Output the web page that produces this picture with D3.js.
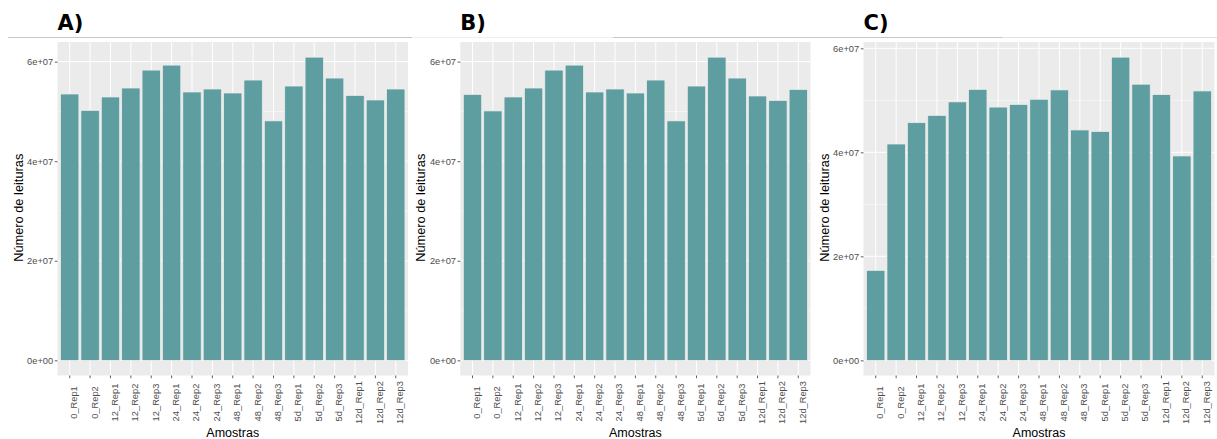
<!DOCTYPE html>
<html>
<head>
<meta charset="utf-8">
<script src="https://cdn.jsdelivr.net/npm/d3@7"></script>
<style>
body{margin:0;background:#fff;}
text{font-family:"Liberation Sans", Arial, sans-serif;}
</style>
</head>
<body>
<div id="chart"></div>
<script>
// samples (same order in the three panels)
var categories = ["0_Rep1","0_Rep2","12_Rep1","12_Rep2","12_Rep3","24_Rep1","24_Rep2","24_Rep3",
    "48_Rep1","48_Rep2","48_Rep3","5d_Rep1","5d_Rep2","5d_Rep3","12d_Rep1","12d_Rep2","12d_Rep3"];

// number of reads per sample
var readsA = [53.5e6, 50.2e6, 52.9e6, 54.7e6, 58.3e6, 59.3e6, 53.9e6, 54.5e6, 53.7e6, 56.3e6, 48.1e6, 55.1e6, 60.9e6, 56.7e6, 53.2e6, 52.3e6, 54.5e6];
var readsB = [53.4e6, 50.1e6, 52.9e6, 54.7e6, 58.3e6, 59.3e6, 53.9e6, 54.5e6, 53.7e6, 56.3e6, 48.1e6, 55.1e6, 60.9e6, 56.7e6, 53.1e6, 52.2e6, 54.4e6];
var readsC = [17.3e6, 41.6e6, 45.7e6, 47.1e6, 49.7e6, 52.1e6, 48.7e6, 49.2e6, 50.2e6, 52.0e6, 44.3e6, 44.0e6, 58.3e6, 53.1e6, 51.1e6, 39.3e6, 51.8e6];

var yTicks = [0, 2e7, 4e7, 6e7];
var yTickLabels = ["0e+00", "2e+07", "4e+07", "6e+07"];
var yMinorTicks = [1e7, 3e7, 5e7];
var panelTitles = ["A)", "B)", "C)"];
var xTitle = "Amostras";
var yTitle = "Número de leituras";

var W = 1217, H = 439;
var plotTop = 42, plotBottom = 375.5;

var panels = [
    {title: panelTitles[0], values: readsA, x0: 57.5, x1: 408},
    {title: panelTitles[1], values: readsB, x0: 460.3, x1: 810.5},
    {title: panelTitles[2], values: readsC, x0: 863.5, x1: 1214.5}
];

var svg = d3.select("#chart")
    .append("svg")
    .attr("width", W)
    .attr("height", H);

// thin rule under the panel letters
var rules = [[8, 412, "#c6c6c6"], [412, 613, "#efefef"], [613, 1002, "#c6c6c6"], [1002, 1217, "#e2e2e2"]];
rules.forEach(function(r){
    svg.append("line")
        .attr("x1", r[0]).attr("x2", r[1])
        .attr("y1", 37.5).attr("y2", 37.5)
        .style("stroke", r[2])
        .style("stroke-width", "1px");
});

panels.forEach(function(p){
    var max = d3.max(p.values);
    var y = d3.scaleLinear()
        .domain([-0.05*max, 1.05*max])
        .range([plotBottom, plotTop]);
    var x = d3.scaleBand()
        .domain(categories)
        .range([p.x0, p.x1])
        .paddingInner(0.1)
        .paddingOuter(0.15);

    var g = svg.append("g");

    // panel background
    g.append("rect")
        .attr("x", p.x0).attr("y", plotTop)
        .attr("width", p.x1 - p.x0).attr("height", plotBottom - plotTop)
        .style("fill", "#ebebeb");

    // grid
    g.selectAll(".minor")
        .data(yMinorTicks)
        .enter()
        .append("line")
        .attr("x1", p.x0).attr("x2", p.x1)
        .attr("y1", function(d){return y(d);})
        .attr("y2", function(d){return y(d);})
        .style("stroke", "#fff")
        .style("stroke-width", "0.5px");

    g.selectAll(".major")
        .data(yTicks)
        .enter()
        .append("line")
        .attr("x1", p.x0).attr("x2", p.x1)
        .attr("y1", function(d){return y(d);})
        .attr("y2", function(d){return y(d);})
        .style("stroke", "#fff")
        .style("stroke-width", "1px");

    g.selectAll(".vgrid")
        .data(categories)
        .enter()
        .append("line")
        .attr("x1", function(d){return x(d) + x.bandwidth()/2;})
        .attr("x2", function(d){return x(d) + x.bandwidth()/2;})
        .attr("y1", plotTop).attr("y2", plotBottom)
        .style("stroke", "#fff")
        .style("stroke-width", "1px");

    // bars
    g.selectAll(".bar")
        .data(p.values)
        .enter()
        .append("rect")
        .attr("x", function(d, i){return x(categories[i]);})
        .attr("width", x.bandwidth())
        .attr("y", function(d){return y(d);})
        .attr("height", function(d){return y(0) - y(d);})
        .style("fill", "#5f9ea0")
        .style("stroke", "#eeeeee")
        .style("stroke-width", "0.7px");

    // y axis
    var yAxis = g.append("g")
        .attr("transform", "translate(" + p.x0 + ",0)")
        .call(d3.axisLeft(y)
            .tickValues(yTicks)
            .tickFormat(function(d, i){return yTickLabels[i];})
            .tickSize(2.7)
            .tickPadding(1.6));
    yAxis.select(".domain").remove();
    yAxis.selectAll("line").style("stroke", "#333").style("stroke-width", "0.8px");
    yAxis.selectAll("text")
        .style("fill", "#4d4d4d")
        .style("font-size", "9.3px")
        .style("font-family", "'Liberation Sans', Arial, sans-serif");

    // x axis
    var xAxis = g.append("g")
        .attr("transform", "translate(0," + plotBottom + ")")
        .call(d3.axisBottom(x).tickSize(2.7));
    xAxis.select(".domain").remove();
    xAxis.selectAll("line").style("stroke", "#333").style("stroke-width", "0.8px");
    xAxis.selectAll("text")
        .attr("y", null)
        .attr("dy", "0.8em")
        .attr("text-anchor", "middle")
        .attr("transform", "translate(0,27) rotate(-90)")
        .style("fill", "#4d4d4d")
        .style("font-size", "9.3px")
        .style("font-family", "'Liberation Sans', Arial, sans-serif");

    // axis titles
    g.append("text")
        .attr("x", (p.x0 + p.x1)/2)
        .attr("y", 437)
        .attr("text-anchor", "middle")
        .style("font-size", "12.5px")
        .style("fill", "#000")
        .text(xTitle);

    g.append("text")
        .attr("transform", "translate(" + (p.x0 - 35) + "," + ((plotTop + plotBottom)/2 - 1) + ") rotate(-90)")
        .attr("text-anchor", "middle")
        .style("font-size", "12.8px")
        .style("fill", "#000")
        .text(yTitle);

    // panel letter
    g.append("text")
        .attr("x", p.x0)
        .attr("y", 29.5)
        .style("font-family", "'DejaVu Sans', sans-serif")
        .style("font-weight", "bold")
        .style("font-size", "21px")
        .text(p.title);
});
</script>
</body>
</html>
